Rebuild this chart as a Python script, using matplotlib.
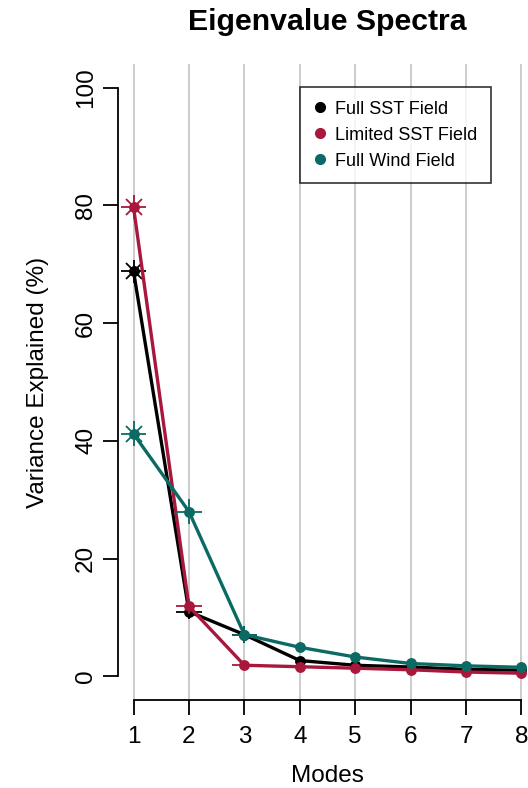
import numpy as np
import matplotlib
matplotlib.use("Agg")
import matplotlib.pyplot as plt
from matplotlib.lines import Line2D

plt.rcParams['font.family'] = ['Liberation Sans', 'DejaVu Sans']

# data
modes = [1, 2, 3, 4, 5, 6, 7, 8]
full_sst = [68.8, 11.0, 7.1, 2.7, 1.9, 1.6, 1.2, 1.05]
limited_sst = [79.7, 11.9, 1.9, 1.65, 1.4, 1.13, 0.75, 0.55]
full_wind = [41.2, 28.0, 7.1, 4.95, 3.3, 2.2, 1.8, 1.55]

# error bars on the first three modes
full_sst_err = [2.0, 1.2, 1.5]
limited_sst_err = [2.0, 1.3, 0.3]
full_wind_err = [2.1, 2.1, 1.5]

names = ['Full SST Field', 'Limited SST Field', 'Full Wind Field']
colors = ['#000000', '#A8183C', '#0B6A63']

W, H = 528, 788
fig = plt.figure(figsize=(W / 100, H / 100), dpi=100)
# plot region in pixels (R style)
left, right, top, bottom = 118, 537, 64, 700
ax = fig.add_axes([left / W, 1 - bottom / H, (right - left) / W, (bottom - top) / H])
ax.set_xlim(0.72, 8.28)
ax.set_ylim(-4, 104)
ax.patch.set_alpha(0)

# vertical grid
for m in modes:
    ax.axvline(m, color='#c8c8c8', lw=1.3, zorder=0)

series = [(full_sst, full_sst_err), (limited_sst, limited_sst_err), (full_wind, full_wind_err)]
for (vals, errs), c in zip(series, colors):
    ax.plot(modes, vals, color=c, lw=2.4, marker='o', ms=6.8, zorder=3)
    ax.errorbar(modes[:3], vals[:3], yerr=errs, xerr=0.23, fmt='none',
                ecolor=c, elinewidth=1.3, capsize=0, zorder=3)
    ax.plot(modes[0], vals[0], marker='x', ms=12, mew=1.3, color=c, zorder=3)

# axes R style
for s in ['top', 'right']:
    ax.spines[s].set_visible(False)
ax.spines['left'].set_bounds(0, 100)
ax.spines['bottom'].set_bounds(1, 8)
for s in ['left', 'bottom']:
    ax.spines[s].set_linewidth(1.3)
ax.set_yticks([0, 20, 40, 60, 80, 100])
ax.set_xticks(modes)
ax.tick_params(axis='both', length=11, width=1.3, labelsize=17.5)
ax.tick_params(axis='x', pad=8)
ax.tick_params(axis='y', pad=4)
for lab in ax.get_yticklabels():
    lab.set_rotation(90)
    lab.set_va('center')
ax.set_xlabel('Modes', fontsize=17.5, labelpad=12)
ax.set_ylabel('Variance Explained (%)', fontsize=17.5, labelpad=19)

fig.text((left + right) / 2 / W, 1 - 22 / H, 'Eigenvalue Spectra',
         fontsize=21.8, fontweight='bold', ha='center', va='center')

handles = [Line2D([], [], ls='none', marker='o', ms=7, color=c) for c in colors]
leg = ax.legend(handles, names, loc='upper left',
                bbox_to_anchor=((300 - left) / (right - left), (bottom - 87) / (bottom - top)),
                fontsize=13, frameon=True, fancybox=False, handlelength=0.7,
                handletextpad=0.5, borderpad=0.75, labelspacing=0.5, borderaxespad=0)
leg.get_frame().set_edgecolor('black')
leg.get_frame().set_linewidth(1.2)

fig.savefig('out.png', dpi=100)
